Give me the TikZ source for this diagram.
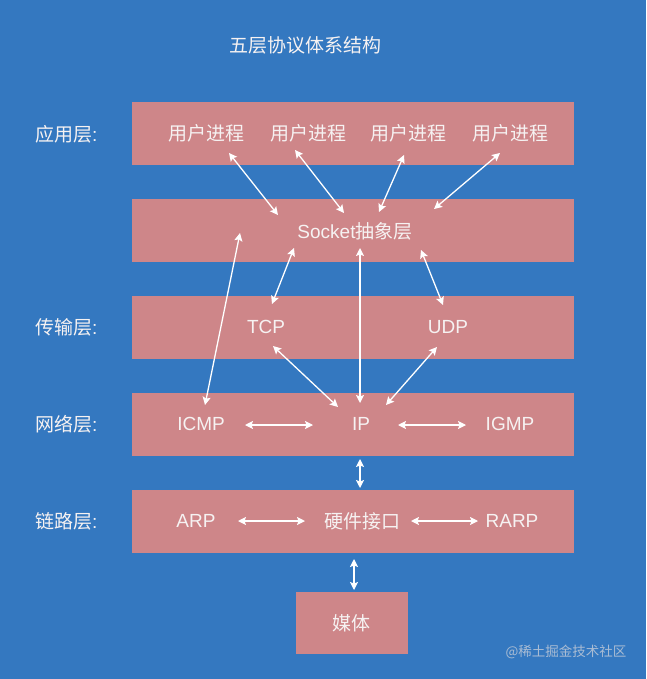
\documentclass[tikz,border=0pt]{standalone}
\usepackage{fontspec}
\setmainfont{Noto Sans CJK SC}
\newfontfamily\lat{Liberation Sans}
\usetikzlibrary{arrows.meta}
\definecolor{bg}{RGB}{52,120,192}
\definecolor{layer}{RGB}{206,134,137}
\definecolor{fg}{RGB}{246,242,242}
\definecolor{wm}{RGB}{190,200,215}
\begin{document}
\begin{tikzpicture}[x=1pt,y=-1pt,
  layerbox/.style={fill=layer, draw=none, minimum width=442pt, minimum height=63pt, inner sep=0pt},
  lbl/.style={text=fg, font=\fontsize{19}{22}\selectfont, inner sep=0pt},
  sidelbl/.style={lbl, anchor=west},
  link/.style={draw=white, line width=1.3pt, {Stealth[length=8pt,width=8pt,inset=1.5pt]}-{Stealth[length=8pt,width=8pt,inset=1.5pt]}}
]
\fill[bg] (0,0) rectangle (646,679);
\useasboundingbox (0,0) rectangle (646,679);

% title
\node[lbl] (title) at (305,45) {五层协议体系结构};

% layer boxes
\node[layerbox] (L1) at (353,133.5) {};
\node[layerbox] (L2) at (353,230.5) {};
\node[layerbox] (L3) at (353,327) {};
\node[layerbox] (L4) at (353,424.5) {};
\node[layerbox] (L5) at (353,521.5) {};
\node[layerbox, minimum width=112pt, minimum height=62pt] (med) at (352,623) {};

% side labels
\node[sidelbl] (s1) at (35,134) {应用层{\lat :}};
\node[sidelbl] (s3) at (35,327) {传输层{\lat :}};
\node[sidelbl] (s4) at (35,424) {网络层{\lat :}};
\node[sidelbl] (s5) at (35,521) {链路层{\lat :}};

% texts
\node[lbl] (p1) at (206,133) {用户进程};
\node[lbl] (p2) at (308,133) {用户进程};
\node[lbl] (p3) at (408,133) {用户进程};
\node[lbl] (p4) at (510,133) {用户进程};
\node[lbl] (sock) at (355,231) {{\lat Socket}抽象层};
\node[lbl] (tcp) at (266,327) {\lat TCP};
\node[lbl] (udp) at (448,327) {\lat UDP};
\node[lbl] (icmp) at (201,424) {\lat ICMP};
\node[lbl] (ip) at (361,424) {\lat IP};
\node[lbl] (igmp) at (510,424) {\lat IGMP};
\node[lbl] (arp) at (196,521) {\lat ARP};
\node[lbl] (hw) at (362,521) {硬件接口};
\node[lbl] (rarp) at (512,521) {\lat RARP};
\node[lbl] (media) at (351,623) {媒体};
\node[text=wm, font=\fontsize{13.5}{16}\selectfont, inner sep=0pt, opacity=0.85] (wmk) at (566,652) {@稀土掘金技术社区};

% arrow endpoints
\coordinate (a1) at (229,153); \coordinate (b1) at (278,215);
\coordinate (a2) at (295,150); \coordinate (b2) at (344,213);
\coordinate (a3) at (404,155); \coordinate (b3) at (379,212);
\coordinate (a4) at (500,153); \coordinate (b4) at (434,209);

\coordinate (c1) at (240,233); \coordinate (d1) at (205,405);
\coordinate (c2) at (294,248); \coordinate (d2) at (272,304);
\coordinate (c3) at (360,248); \coordinate (d3) at (360,403);
\coordinate (c4) at (421,250); \coordinate (d4) at (443,305);

\coordinate (e1) at (273,346); \coordinate (f1) at (338,407);
\coordinate (e2) at (437,347); \coordinate (f2) at (386,405);

\coordinate (g1) at (245,425); \coordinate (h1) at (313,425);
\coordinate (g2) at (398,425); \coordinate (h2) at (466,425);

\coordinate (i1) at (360,459); \coordinate (j1) at (360,488);

\coordinate (k1) at (238,521); \coordinate (l1) at (305,521);
\coordinate (k2) at (411,521); \coordinate (l2) at (478,521);

\coordinate (m1) at (354,559); \coordinate (n1) at (354,590);

% connectors
\draw[link] (a1) -- (b1);
\draw[link] (a2) -- (b2);
\draw[link] (a3) -- (b3);
\draw[link] (a4) -- (b4);
\draw[link] (c1) -- (d1);
\draw[link] (c2) -- (d2);
\draw[link] (c3) -- (d3);
\draw[link] (c4) -- (d4);
\draw[link] (e1) -- (f1);
\draw[link] (e2) -- (f2);
\draw[link] (g1) -- (h1);
\draw[link] (g2) -- (h2);
\draw[link] (i1) -- (j1);
\draw[link] (k1) -- (l1);
\draw[link] (k2) -- (l2);
\draw[link] (m1) -- (n1);
\end{tikzpicture}
\end{document}
